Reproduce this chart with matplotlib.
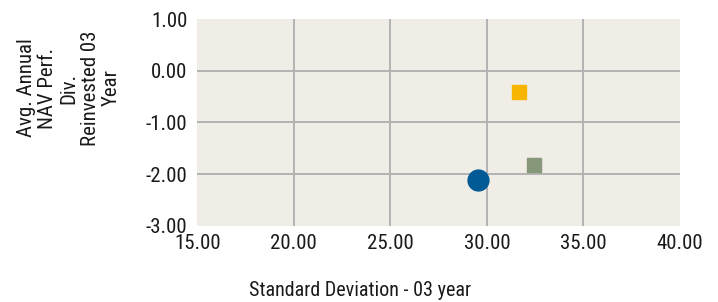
import matplotlib
matplotlib.use("Agg")
import matplotlib.pyplot as plt

# risk / return points
std_dev = [29.55, 31.65, 32.45]
perf = [-2.11, -0.41, -1.82]
markers = ["o", "s", "s"]
colors = ["#005a96", "#f7b500", "#87977a"]
sizes = [15, 10, 10]

x_ticks = [15, 20, 25, 30, 35, 40]
y_ticks = [-3, -2, -1, 0, 1]

plt.rcParams["font.family"] = ["Roboto Condensed", "DejaVu Sans"]

fig = plt.figure(figsize=(7.18, 3.02), dpi=100)
ax = fig.add_axes([197.3 / 718, 1 - 225.7 / 302, (680 - 197.3) / 718, (225.7 - 19) / 302])
ax.set_facecolor("#f0ede6")

ax.set_xlim(x_ticks[0], x_ticks[-1])
ax.set_ylim(y_ticks[0], y_ticks[-1])
ax.set_xticks(x_ticks)
ax.set_yticks(y_ticks)
ax.set_xticklabels(["%.2f" % v for v in x_ticks])
ax.set_yticklabels(["%.2f" % v for v in y_ticks])
ax.tick_params(length=0, labelsize=15, colors="#1a1a1a")
ax.tick_params(axis="x", pad=6)
ax.tick_params(axis="y", pad=7)
for s in ax.spines.values():
    s.set_visible(False)

# interior grid only
for v in x_ticks[1:-1]:
    ax.axvline(v, color="#b3b3b3", lw=1.4, zorder=1)
for v in y_ticks[1:-1]:
    ax.axhline(v, color="#b3b3b3", lw=1.4, zorder=1)

for x, y, m, c, s in zip(std_dev, perf, markers, colors, sizes):
    ax.plot(x, y, marker=m, color=c, markersize=s, linestyle="none", zorder=3)

fig.text(69 / 718, 1 - 88 / 302, "Avg. Annual\nNAV Perf.\nDiv.\nReinvested 03\nYear",
         rotation=90, ha="center", va="center", multialignment="center",
         fontsize=15, color="#1a1a1a", linespacing=1.15)
fig.text(360 / 718, 1 - 290 / 302, "Standard Deviation - 03 year",
         ha="center", va="center", fontsize=14.5, color="#1a1a1a")

fig.savefig("out.png", dpi=100)
